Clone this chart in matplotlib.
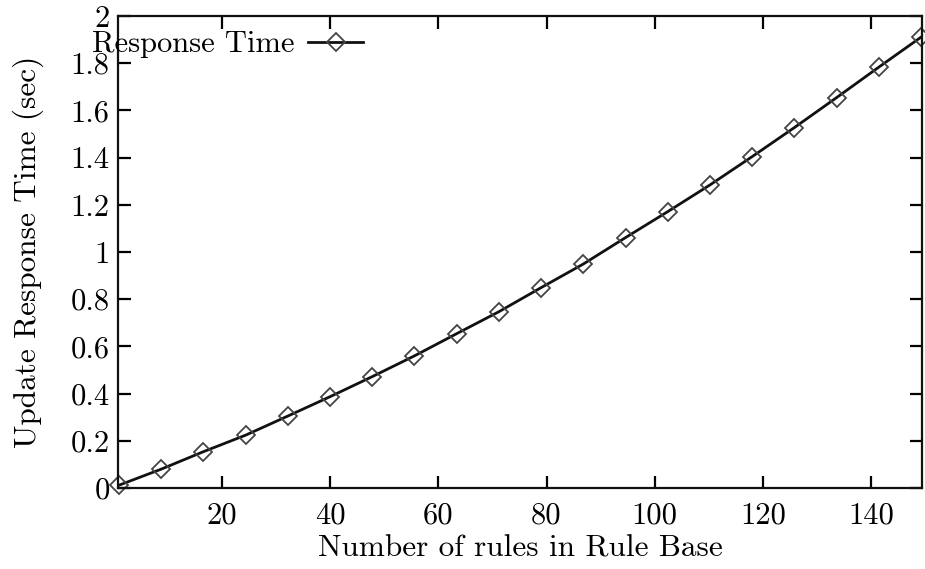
import matplotlib
matplotlib.use('Agg')
import matplotlib.pyplot as plt

plt.rcParams['font.family'] = 'cmr10'
plt.rcParams['mathtext.fontset'] = 'cm'
plt.rcParams['axes.formatter.use_mathtext'] = True

# rules in rule base vs update response time (sec)
rules = [1, 8.8, 16.6, 24.4, 32.2, 40, 47.8, 55.6, 63.4, 71.2,
         79, 86.8, 94.6, 102.4, 110.2, 118, 125.8, 133.6, 141.4, 149.2]
resp_time = [0.012, 0.08, 0.154, 0.224, 0.305, 0.387, 0.472, 0.56, 0.654, 0.747,
             0.849, 0.949, 1.061, 1.171, 1.284, 1.404, 1.527, 1.654, 1.783, 1.91]
xticks = [20, 40, 60, 80, 100, 120, 140]
yticks = [0, 0.2, 0.4, 0.6, 0.8, 1, 1.2, 1.4, 1.6, 1.8, 2]
ytick_labels = ['0', '0.2', '0.4', '0.6', '0.8', '1', '1.2', '1.4', '1.6', '1.8', '2']

fig = plt.figure(figsize=(9.25, 5.69), dpi=100)
ax = fig.add_axes([118 / 925, 1 - 488 / 569, (922 - 118) / 925, (488 - 16) / 569])

ax.plot(rules, resp_time, color='#111111', linewidth=2, marker='D', markersize=9,
        markerfacecolor='none', markeredgecolor='#444444', markeredgewidth=1.3,
        clip_on=False, label='Response Time')

ax.set_xlim(0.8, 149.4)
ax.set_ylim(0, 2)
ax.set_xticks(xticks)
ax.set_xticklabels([str(t) for t in xticks])
ax.set_yticks(yticks)
ax.set_yticklabels(ytick_labels)
ax.tick_params(direction='in', length=9, width=1.6, labelsize=22,
               top=True, right=True)
ax.tick_params(axis='x', pad=10)
ax.tick_params(axis='y', pad=6)
for s in ax.spines.values():
    s.set_linewidth(1.6)
    s.set_color('#111111')

ax.set_xlabel('Number of rules in Rule Base', fontsize=22.5, labelpad=4)
ax.set_ylabel('Update Response Time (sec)', fontsize=22.5)
ax.yaxis.set_label_coords(-0.092, 0.5)

ax.legend(loc='upper left', bbox_to_anchor=(-0.036, 0.975), frameon=False,
          markerfirst=False, fontsize=22, handlelength=1.8, handletextpad=0.45,
          borderaxespad=0.1, borderpad=0.0)

fig.savefig('out.png', dpi=100)
